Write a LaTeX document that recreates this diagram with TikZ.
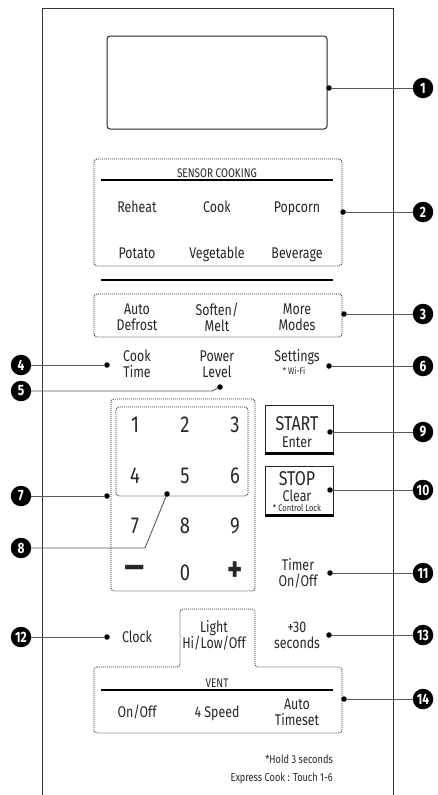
\documentclass[tikz,border=0pt]{standalone}
\usepackage{fontspec}
\setmainfont{Fira Sans}[FakeStretch=0.8]
\usepackage{tikz}

\tikzset{
  lbl/.style={font=\fontsize{15.5}{16}\selectfont, align=center, inner sep=0pt, text=black!85},
  small/.style={font=\fontsize{12.5}{13}\selectfont, inner sep=0pt, text=black!85},
  tiny/.style={font=\fontsize{9.5}{10}\selectfont, inner sep=0pt, text=black!85},
  keylbl/.style={font=\fontsize{23}{24}\selectfont, inner sep=0pt, anchor=base, text=black!85},
  badge/.style={circle, fill=black, text=white, minimum size=20.5pt, inner sep=0pt,
    font=\bfseries\fontsize{15}{15}\selectfont},
  pin/.style={circle, fill=black, minimum size=5.5pt, inner sep=0pt},
  leader/.style={draw=black!65, line width=0.9pt},
  dotbox/.style={draw=black!85, dash pattern=on 1pt off 1pt, line width=0.8pt, rounded corners=3pt},
  rule/.style={draw=black, line width=1.4pt},
}

\begin{document}
\begin{tikzpicture}[x=1pt, y=-1pt]
  \useasboundingbox (0,0) rectangle (437,795);
  % panel
  \draw[black!80, line width=1pt] (42,795) -- (42,8) -- (393,8) -- (393,795);

  % display
  \draw[black!85, line width=1pt, rounded corners=3pt] (107,36) rectangle (327,129);

  % sensor cooking
  \draw[dotbox] (94,159) rectangle (342,266);
  \node[small, anchor=base] (sensor) at (217,177) {SENSOR COOKING};
  \draw[rule, line width=1.2pt] (101,180) -- (333,180);
  \node[lbl, anchor=base] (reheat) at (137,212) {Reheat};
  \node[lbl, anchor=base] (cook) at (217,212) {Cook};
  \node[lbl, anchor=base] (popcorn) at (297,212) {Popcorn};
  \node[lbl, anchor=base] (potato) at (137,258) {Potato};
  \node[lbl, anchor=base] (vegetable) at (217,258) {Vegetable};
  \node[lbl, anchor=base] (beverage) at (297,258) {Beverage};
  \draw[rule] (101,280) -- (333,280);

  % modes
  \draw[dotbox] (94,294) rectangle (342,337);
  \node[lbl] (defrost) at (137,317) {Auto\\Defrost};
  \node[lbl] (soften) at (217,317) {Soften/\\Melt};
  \node[lbl] (modes) at (297,317) {More\\Modes};

  \node[lbl] (cooktime) at (137,364) {Cook\\Time};
  \node[lbl] (power) at (217,364) {Power\\Level};
  \node[lbl, anchor=base] (settings) at (297,361) {Settings};
  \node[tiny, anchor=base] (wifi) at (294,374) {* Wi-Fi};

  % keypad
  \draw[dotbox] (111,399) rectangle (255,591);
  \draw[dotbox] (116,407) rectangle (248,496);
  \node[keylbl] (k1) at (135,432) {1};
  \node[keylbl] (k2) at (185,432) {2};
  \node[keylbl] (k3) at (235,432) {3};
  \node[keylbl] (k4) at (135,483) {4};
  \node[keylbl] (k5) at (185,483) {5};
  \node[keylbl] (k6) at (235,483) {6};
  \node[keylbl] (k7) at (135,533) {7};
  \node[keylbl] (k8) at (185,533) {8};
  \node[keylbl] (k9) at (235,533) {9};
  \node[keylbl] (k0) at (185,580) {0};
  \node[keylbl, anchor=center, font=\bfseries\fontsize{36}{36}\selectfont] (kminus) at (135,572) {\scalebox{1.5}[1]{−}};
  \node[keylbl, anchor=center, font=\bfseries\fontsize{36}{36}\selectfont] (kplus) at (235,572) {+};

  % start / stop
  \draw[black!85, line width=0.9pt] (265,455) -- (265,405) -- (333,405) -- (333,455);
  \draw[black, line width=3pt] (264.5,453.5) -- (333.5,453.5);
  \node[inner sep=0pt, anchor=base, text=black!85, font=\fontsize{20}{20}\selectfont] (start) at (297,430) {START};
  \node[lbl, anchor=base] (enter) at (297,447) {Enter};
  \draw[black!85, line width=0.9pt] (265,517) -- (265,466) -- (333,466) -- (333,517);
  \draw[black, line width=3pt] (264.5,515.5) -- (333.5,515.5);
  \node[inner sep=0pt, anchor=base, text=black!85, font=\fontsize{20}{20}\selectfont] (stop) at (297,485) {STOP};
  \node[lbl, anchor=base] (clear) at (297,501) {Clear};
  \node[tiny, anchor=base] (lock) at (297,511) {* Control Lock};

  \node[lbl] (timer) at (298,573) {Timer\\On/Off};
  \node[lbl, anchor=base] (clock) at (137,642) {Clock};
  \node[lbl] (light) at (214,635) {Light\\Hi/Low/Off};
  \node[lbl] (plus30) at (297,635) {+30\\seconds};

  % vent
  \draw[dotbox] (94,667) -- (180,667) -- (180,609) -- (255,609) -- (255,667)
    -- (342,667) -- (342,733) -- (94,733) -- cycle;
  \node[small, anchor=base] (vent) at (217,687) {VENT};
  \draw[rule, line width=1.2pt] (101,690) -- (333,690);
  \node[lbl, anchor=base] (ventonoff) at (137,717) {On/Off};
  \node[lbl, anchor=base] (speed) at (217,717) {4 Speed};
  \node[lbl] (timeset) at (297,712) {Auto\\Timeset};

  \node[small, anchor=base east, font=\fontsize{11.5}{12}\selectfont] (hold) at (333,763) {*Hold 3 seconds};
  \node[small, anchor=base east, font=\fontsize{11.5}{12}\selectfont] (express) at (333,781) {Express Cook : Touch 1-6};

  % callouts
  \node[pin] (d1) at (329,88) {};   \node[badge] (b1) at (423,88) {1};
  \node[pin] (d2) at (343,212) {};  \node[badge] (b2) at (423,212) {2};
  \node[pin] (d3) at (344,314) {};  \node[badge] (b3) at (423,314) {3};
  \node[pin] (d4) at (107,365) {};  \node[badge] (b4) at (21,365) {4};
  \node[pin] (d5) at (220,387) {};  \node[badge] (b5) at (21,391) {5};
  \node[pin] (d6) at (329,366) {};  \node[badge] (b6) at (423,366) {6};
  \node[pin] (d7) at (107,496) {};  \node[badge] (b7) at (21,496) {7};
  \node[pin] (d8) at (167,494) {};  \node[badge] (b8) at (21,548) {8};
  \node[pin] (d9) at (330,432) {};  \node[badge] (b9) at (423,432) {9};
  \node[pin] (d10) at (330,490) {}; \node[badge] (b10) at (423,490) {10};
  \node[pin] (d11) at (330,573) {}; \node[badge] (b11) at (423,573) {11};
  \node[pin] (d12) at (107,637) {}; \node[badge] (b12) at (21,637) {12};
  \node[pin] (d13) at (329,635) {}; \node[badge] (b13) at (423,635) {13};
  \node[pin] (d14) at (344,699) {}; \node[badge] (b14) at (423,699) {14};
  \coordinate (bend5) at (212,391);
  \coordinate (bend8) at (145,548);

  \draw[leader] (d1) -- (b1);
  \draw[leader] (d2) -- (b2);
  \draw[leader] (d3) -- (b3);
  \draw[leader] (d4) -- (b4);
  \draw[leader] (b5) -- (bend5) -- (d5);
  \draw[leader] (d6) -- (b6);
  \draw[leader] (d7) -- (b7);
  \draw[leader] (b8) -- (bend8) -- (d8);
  \draw[leader] (d9) -- (b9);
  \draw[leader] (d10) -- (b10);
  \draw[leader] (d11) -- (b11);
  \draw[leader] (d12) -- (b12);
  \draw[leader] (d13) -- (b13);
  \draw[leader] (d14) -- (b14);
\end{tikzpicture}
\end{document}
